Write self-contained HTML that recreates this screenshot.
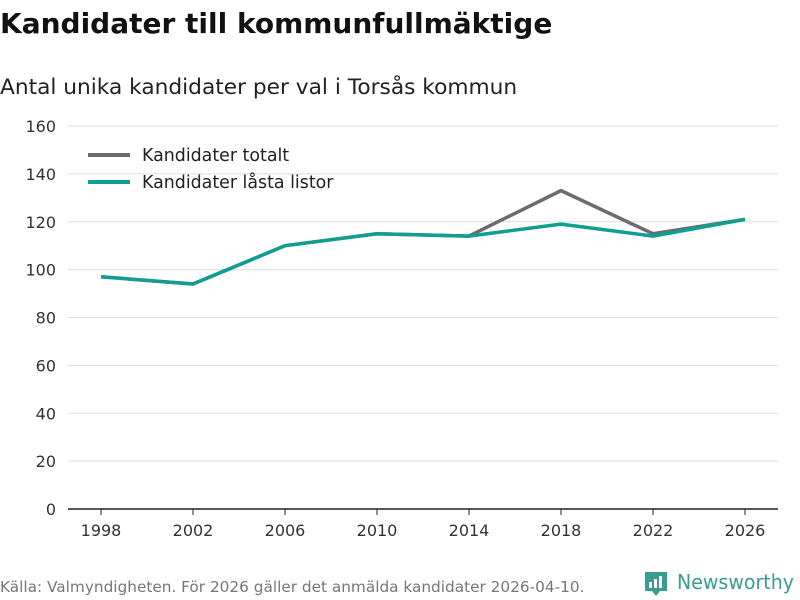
<!DOCTYPE html>
<html><head><meta charset="utf-8"><style>
body{margin:0;background:#fff;font-family:"DejaVu Sans","Liberation Sans",sans-serif;}
#wrap{position:relative;width:800px;height:600px;overflow:hidden;}
</style></head><body><div id="wrap">
<svg id="c" width="800" height="600" xmlns="http://www.w3.org/2000/svg">
<text x="0" y="33" font-size="28" font-weight="bold" fill="#111">Kandidater till kommunfullmäktige</text>
<text x="0" y="94" font-size="21.7" fill="#222">Antal unika kandidater per val i Torsås kommun</text>
<text x="0" y="592" font-size="15.3" fill="#777">Källa: Valmyndigheten. För 2026 gäller det anmälda kandidater 2026-04-10.</text>
<g>
<path d="M645 572 h22 v19 h-7 l-4 5 l-4 -5 h-7 z" fill="#3a9b91"/>
<rect x="649" y="582" width="3" height="6" fill="#fff"/><rect x="654" y="579" width="3" height="9" fill="#fff"/><rect x="659" y="576" width="3" height="12" fill="#fff"/>
<text x="677" y="589" font-size="20" fill="#3a9b91" textLength="117" lengthAdjust="spacingAndGlyphs">Newsworthy</text>
</g>
<g id="grid"></g><g id="axes"></g><g id="lines"></g>
<g>
<line x1="88" y1="155" x2="130" y2="155" stroke="#6b6b70" stroke-width="4"/>
<text x="142" y="161" font-size="17.4" fill="#222">Kandidater totalt</text>
<line x1="88" y1="182" x2="130" y2="182" stroke="#0f9e94" stroke-width="4"/>
<text x="142" y="188" font-size="17.4" fill="#222">Kandidater låsta listor</text>
</g>
</svg></div>
<script>
const years=[1998,2002,2006,2010,2014,2018,2022,2026];
const totalt=[97,94,110,115,114,133,115,121];
const lasta=[97,94,110,115,114,119,114,121];
const yTicks=[0,20,40,60,80,100,120,140,160];
const NS="http://www.w3.org/2000/svg";
const x=v=>101+(v-1998)*(745-101)/28;
const y=v=>509-v*(509-126)/160;
const g=document.getElementById('grid'),a=document.getElementById('axes'),L=document.getElementById('lines');
function mk(t,at,p){const e=document.createElementNS(NS,t);for(const k in at)e.setAttribute(k,at[k]);p.appendChild(e);return e;}
yTicks.forEach(t=>{
 if(t>0){const l=mk('line',{x1:68,x2:778,y1:y(t),y2:y(t),stroke:'#ddd','stroke-width':1},g);
 
 }
 const tx=mk('text',{x:56,y:y(t)+6,'text-anchor':'end','font-size':16,fill:'#333'},a);tx.textContent=t;
 
 
});
const base=mk('line',{x1:68,x2:778,y1:509,y2:509,stroke:'#222','stroke-width':1.5},a);


years.forEach(yr=>{
 mk('line',{x1:x(yr),x2:x(yr),y1:509,y2:515,stroke:'#222'},a);
 const tx=mk('text',{x:x(yr),y:536,'text-anchor':'middle','font-size':16,fill:'#333'},a);tx.textContent=yr;
 
 
});
[[totalt,'#6b6b70','line-totalt'],[lasta,'#0f9e94','line-lasta']].forEach(([d,c,n])=>{
 const p=mk('polyline',{points:d.map((v,i)=>x(years[i])+','+y(v)).join(' '),fill:'none',stroke:c,'stroke-width':3.5,'stroke-linejoin':'round'},L);
 
 
});
</script></body></html>
